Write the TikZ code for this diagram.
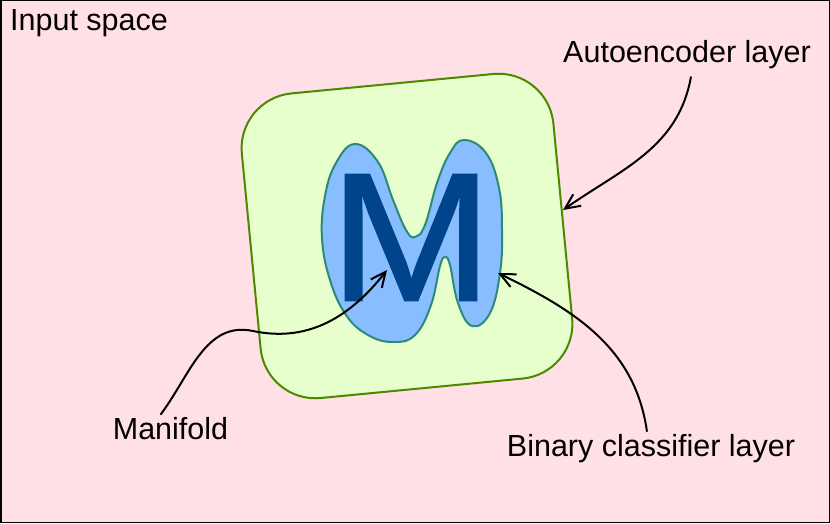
\documentclass[tikz,border=0pt]{standalone}
\usepackage{fontspec}
\setmainfont{Liberation Sans}
\newfontfamily\letterfont[FakeBold=0.9]{Liberation Sans}
\usetikzlibrary{arrows.meta}
\definecolor{spacepink}{RGB}{255,224,230}
\definecolor{layergreen}{RGB}{230,255,204}
\definecolor{layerline}{RGB}{77,136,0}
\definecolor{blobblue}{RGB}{136,190,255}
\definecolor{blobline}{RGB}{45,138,122}
\definecolor{letterblue}{RGB}{0,68,140}
\tikzset{lbl/.style={font=\fontsize{30.5}{36}\selectfont, inner sep=2pt}}
\tikzset{layerbox/.style={rectangle, rounded corners=55pt, draw=layerline,
  fill=layergreen, line width=2pt, minimum width=313pt, minimum height=306pt}}
\tikzset{pointer/.style={line width=2pt, -{Straight Barb[length=15pt,width=14pt]}}}

\begin{document}
\begin{tikzpicture}[x=1pt,y=1pt]
  \useasboundingbox (0,0) rectangle (830,523);
  \draw[fill=spacepink, line width=1.5pt] (0.75,0.75) rectangle (829.25,522.25);
  % layers
  \node[layerbox, rotate=5.5] (autoenc) at (407,287) {};
  \draw[fill=blobblue, draw=blobline, line width=2pt] plot[smooth cycle, tension=0.7] coordinates {
    (355,379) (378,361) (393,323) (406,293) (415,286) (425,298) (437,340) (450,370)
    (464,383) (486,370) (499,335) (502,293) (500,250) (490,210) (472,197) (458,220)
    (450,258) (445,266) (440,257) (431,218) (415,188) (393,181) (368,188) (346,208)
    (330,243) (322,285) (325,327) (336,360)};
  \node[inner sep=0pt, text=letterblue, font=\letterfont\fontsize{183}{183}\selectfont, xscale=1.07] (letter) at (411,285.5) {M};
  % labels
  \node[lbl, anchor=base west] (inputlbl) at (8,492) {Input space};
  \node[lbl, anchor=base] (autolbl) at (687,460) {Autoencoder layer};
  \node[lbl, anchor=base] (manilbl) at (170.5,84) {Manifold};
  \node[lbl, anchor=base] (binlbl) at (651,67) {Binary classifier layer};
  \coordinate (autotip) at (563,313);
  \coordinate (bintip) at (498,250);
  \coordinate (manitip) at (387,253);
  \coordinate (manihump) at (253,192);
  \draw[pointer] ([xshift=4pt,yshift=-5pt]autolbl.south) to[out=-100,in=35] (autotip);
  \draw[pointer] ([xshift=-4pt]binlbl.north) to[out=98,in=-26] (bintip);
  \draw[pointer] ([xshift=-10pt]manilbl.north) to[out=53,in=168] (manihump) to[out=-12,in=-128] (manitip);
\end{tikzpicture}
\end{document}
